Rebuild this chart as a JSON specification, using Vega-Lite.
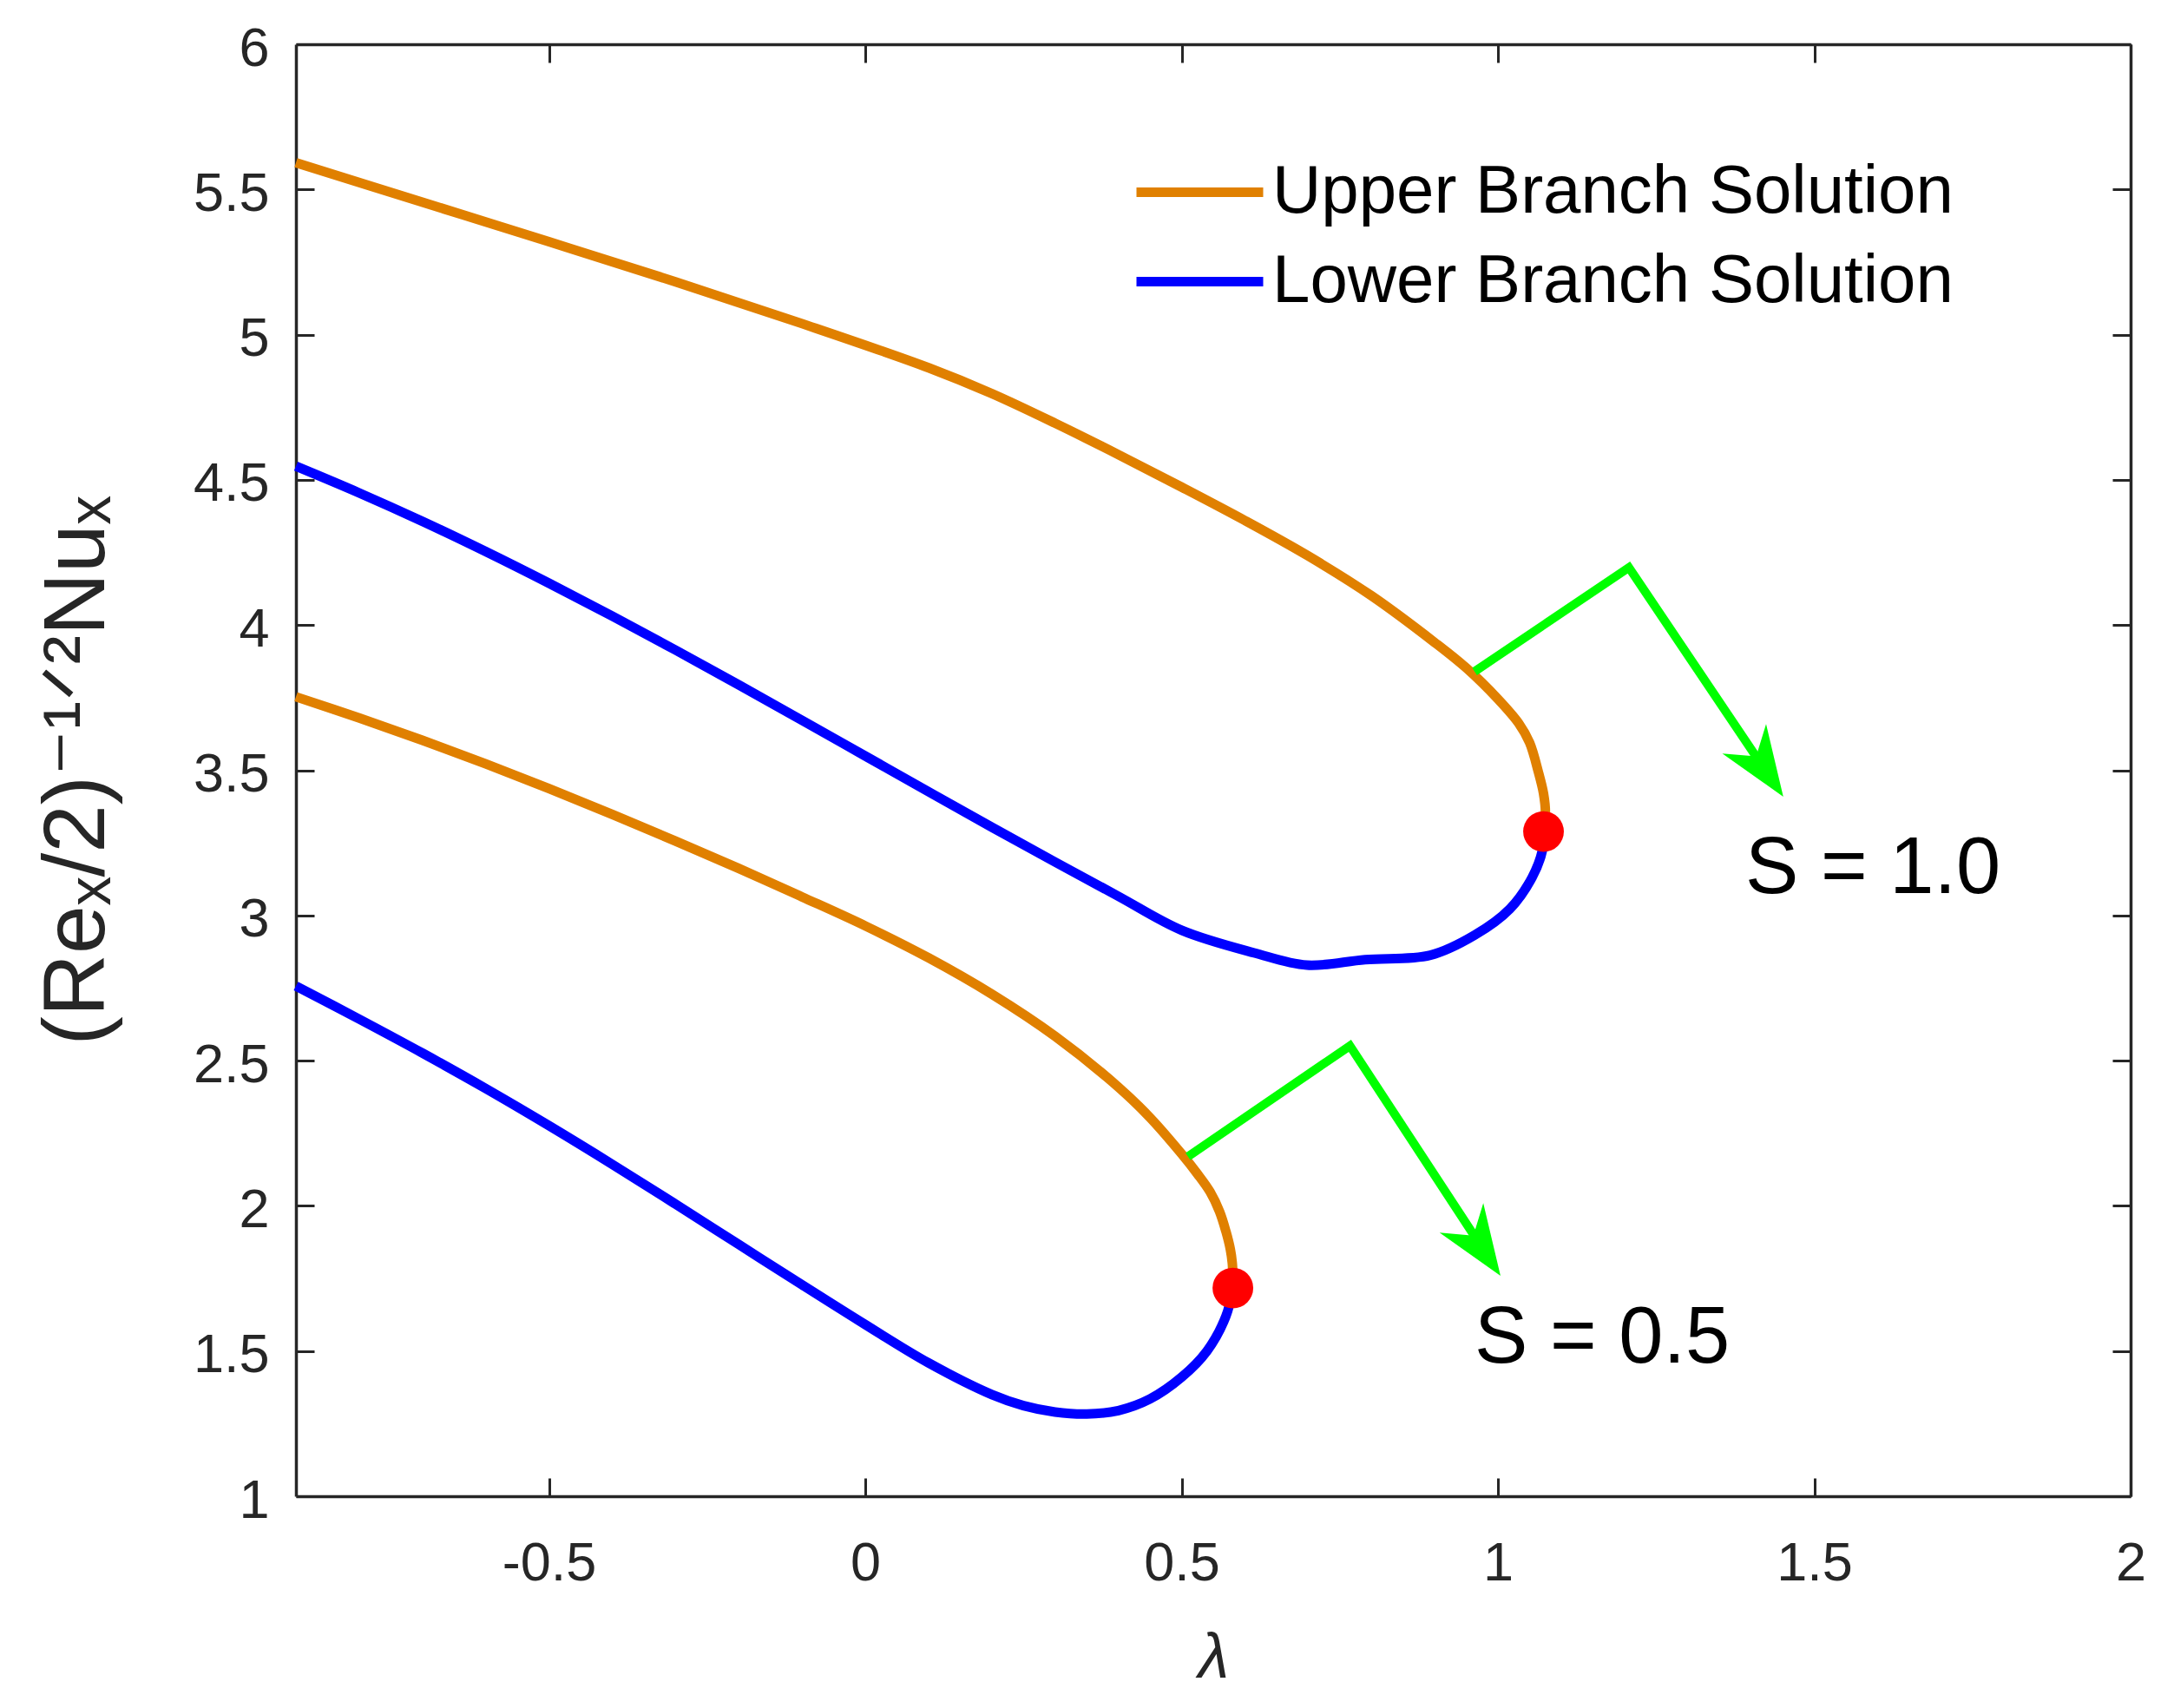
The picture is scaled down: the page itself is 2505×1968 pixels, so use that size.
{
  "$schema": "https://vega.github.io/schema/vega-lite/v6.json",
  "width": 2114,
  "height": 1673,
  "autosize": {"type": "none"},
  "padding": {"left": 341, "top": 51, "right": 50, "bottom": 244},
  "background": "#ffffff",
  "config": {
    "view": {"stroke": null},
    "axis": {
      "grid": false,
      "domainColor": "#262626",
      "domainWidth": 3.5,
      "tickColor": "#262626",
      "tickWidth": 3,
      "tickSize": -21,
      "labelFont": "Liberation Sans",
      "labelFontSize": 63,
      "labelColor": "#262626",
      "labelFlush": false,
      "labelOverlap": false,
      "titleFont": "Liberation Sans, DejaVu Sans",
      "titleColor": "#262626",
      "titleFontWeight": "normal"
    },
    "legend": {
      "orient": "none",
      "legendX": 997,
      "legendY": 109,
      "padding": 0,
      "symbolType": "M-1.607,0L1,0",
      "symbolSize": 12544,
      "symbolStrokeWidth": 11,
      "symbolFillColor": "transparent",
      "labelFont": "Liberation Sans",
      "labelFontSize": 78,
      "labelColor": "#000000",
      "labelOffset": 5,
      "labelLimit": 2000,
      "rowPadding": 2
    }
  },
  "layer": [
    {
      "data": {"values": [
        {"series": "U1", "branch": "Upper Branch Solution", "i": 0, "lam": -0.9, "nu": 5.592},
        {"series": "U1", "branch": "Upper Branch Solution", "i": 1, "lam": -0.7, "nu": 5.456},
        {"series": "U1", "branch": "Upper Branch Solution", "i": 2, "lam": -0.5, "nu": 5.320},
        {"series": "U1", "branch": "Upper Branch Solution", "i": 3, "lam": -0.3, "nu": 5.182},
        {"series": "U1", "branch": "Upper Branch Solution", "i": 4, "lam": -0.1, "nu": 5.038},
        {"series": "U1", "branch": "Upper Branch Solution", "i": 5, "lam": 0.1, "nu": 4.886},
        {"series": "U1", "branch": "Upper Branch Solution", "i": 6, "lam": 0.2, "nu": 4.797},
        {"series": "U1", "branch": "Upper Branch Solution", "i": 7, "lam": 0.3, "nu": 4.695},
        {"series": "U1", "branch": "Upper Branch Solution", "i": 8, "lam": 0.4, "nu": 4.587},
        {"series": "U1", "branch": "Upper Branch Solution", "i": 9, "lam": 0.5, "nu": 4.475},
        {"series": "U1", "branch": "Upper Branch Solution", "i": 10, "lam": 0.6, "nu": 4.360},
        {"series": "U1", "branch": "Upper Branch Solution", "i": 11, "lam": 0.7, "nu": 4.238},
        {"series": "U1", "branch": "Upper Branch Solution", "i": 12, "lam": 0.8, "nu": 4.101},
        {"series": "U1", "branch": "Upper Branch Solution", "i": 13, "lam": 0.9, "nu": 3.940},
        {"series": "U1", "branch": "Upper Branch Solution", "i": 14, "lam": 0.95, "nu": 3.852},
        {"series": "U1", "branch": "Upper Branch Solution", "i": 15, "lam": 1.0, "nu": 3.745},
        {"series": "U1", "branch": "Upper Branch Solution", "i": 16, "lam": 1.033, "nu": 3.661},
        {"series": "U1", "branch": "Upper Branch Solution", "i": 17, "lam": 1.05, "nu": 3.595},
        {"series": "U1", "branch": "Upper Branch Solution", "i": 18, "lam": 1.064, "nu": 3.493},
        {"series": "U1", "branch": "Upper Branch Solution", "i": 19, "lam": 1.072, "nu": 3.420},
        {"series": "U1", "branch": "Upper Branch Solution", "i": 20, "lam": 1.075, "nu": 3.355},
        {"series": "U1", "branch": "Upper Branch Solution", "i": 21, "lam": 1.072, "nu": 3.289},
        {"series": "L1", "branch": "Lower Branch Solution", "i": 0, "lam": -0.9, "nu": 4.547},
        {"series": "L1", "branch": "Lower Branch Solution", "i": 1, "lam": -0.8, "nu": 4.455},
        {"series": "L1", "branch": "Lower Branch Solution", "i": 2, "lam": -0.7, "nu": 4.357},
        {"series": "L1", "branch": "Lower Branch Solution", "i": 3, "lam": -0.6, "nu": 4.253},
        {"series": "L1", "branch": "Lower Branch Solution", "i": 4, "lam": -0.5, "nu": 4.144},
        {"series": "L1", "branch": "Lower Branch Solution", "i": 5, "lam": -0.4, "nu": 4.031},
        {"series": "L1", "branch": "Lower Branch Solution", "i": 6, "lam": -0.3, "nu": 3.914},
        {"series": "L1", "branch": "Lower Branch Solution", "i": 7, "lam": -0.2, "nu": 3.794},
        {"series": "L1", "branch": "Lower Branch Solution", "i": 8, "lam": -0.1, "nu": 3.672},
        {"series": "L1", "branch": "Lower Branch Solution", "i": 9, "lam": 0.0, "nu": 3.549},
        {"series": "L1", "branch": "Lower Branch Solution", "i": 10, "lam": 0.1, "nu": 3.426},
        {"series": "L1", "branch": "Lower Branch Solution", "i": 11, "lam": 0.2, "nu": 3.304},
        {"series": "L1", "branch": "Lower Branch Solution", "i": 12, "lam": 0.3, "nu": 3.184},
        {"series": "L1", "branch": "Lower Branch Solution", "i": 13, "lam": 0.4, "nu": 3.066},
        {"series": "L1", "branch": "Lower Branch Solution", "i": 14, "lam": 0.5, "nu": 2.949},
        {"series": "L1", "branch": "Lower Branch Solution", "i": 15, "lam": 0.615, "nu": 2.871},
        {"series": "L1", "branch": "Lower Branch Solution", "i": 16, "lam": 0.698, "nu": 2.829},
        {"series": "L1", "branch": "Lower Branch Solution", "i": 17, "lam": 0.790, "nu": 2.848},
        {"series": "L1", "branch": "Lower Branch Solution", "i": 18, "lam": 0.893, "nu": 2.863},
        {"series": "L1", "branch": "Lower Branch Solution", "i": 19, "lam": 0.963, "nu": 2.932},
        {"series": "L1", "branch": "Lower Branch Solution", "i": 20, "lam": 1.019, "nu": 3.023},
        {"series": "L1", "branch": "Lower Branch Solution", "i": 21, "lam": 1.054, "nu": 3.131},
        {"series": "L1", "branch": "Lower Branch Solution", "i": 22, "lam": 1.070, "nu": 3.222},
        {"series": "L1", "branch": "Lower Branch Solution", "i": 23, "lam": 1.072, "nu": 3.289},
        {"series": "U05", "branch": "Upper Branch Solution", "i": 0, "lam": -0.9, "nu": 3.753},
        {"series": "U05", "branch": "Upper Branch Solution", "i": 1, "lam": -0.8, "nu": 3.680},
        {"series": "U05", "branch": "Upper Branch Solution", "i": 2, "lam": -0.7, "nu": 3.603},
        {"series": "U05", "branch": "Upper Branch Solution", "i": 3, "lam": -0.6, "nu": 3.522},
        {"series": "U05", "branch": "Upper Branch Solution", "i": 4, "lam": -0.5, "nu": 3.437},
        {"series": "U05", "branch": "Upper Branch Solution", "i": 5, "lam": -0.4, "nu": 3.348},
        {"series": "U05", "branch": "Upper Branch Solution", "i": 6, "lam": -0.3, "nu": 3.256},
        {"series": "U05", "branch": "Upper Branch Solution", "i": 7, "lam": -0.2, "nu": 3.162},
        {"series": "U05", "branch": "Upper Branch Solution", "i": 8, "lam": -0.1, "nu": 3.064},
        {"series": "U05", "branch": "Upper Branch Solution", "i": 9, "lam": 0.0, "nu": 2.964},
        {"series": "U05", "branch": "Upper Branch Solution", "i": 10, "lam": 0.1, "nu": 2.854},
        {"series": "U05", "branch": "Upper Branch Solution", "i": 11, "lam": 0.2, "nu": 2.729},
        {"series": "U05", "branch": "Upper Branch Solution", "i": 12, "lam": 0.3, "nu": 2.584},
        {"series": "U05", "branch": "Upper Branch Solution", "i": 13, "lam": 0.4, "nu": 2.409},
        {"series": "U05", "branch": "Upper Branch Solution", "i": 14, "lam": 0.45, "nu": 2.304},
        {"series": "U05", "branch": "Upper Branch Solution", "i": 15, "lam": 0.5, "nu": 2.179},
        {"series": "U05", "branch": "Upper Branch Solution", "i": 16, "lam": 0.525, "nu": 2.110},
        {"series": "U05", "branch": "Upper Branch Solution", "i": 17, "lam": 0.545, "nu": 2.048},
        {"series": "U05", "branch": "Upper Branch Solution", "i": 18, "lam": 0.560, "nu": 1.980},
        {"series": "U05", "branch": "Upper Branch Solution", "i": 19, "lam": 0.570, "nu": 1.912},
        {"series": "U05", "branch": "Upper Branch Solution", "i": 20, "lam": 0.577, "nu": 1.850},
        {"series": "U05", "branch": "Upper Branch Solution", "i": 21, "lam": 0.580, "nu": 1.804},
        {"series": "U05", "branch": "Upper Branch Solution", "i": 22, "lam": 0.581, "nu": 1.760},
        {"series": "U05", "branch": "Upper Branch Solution", "i": 23, "lam": 0.581, "nu": 1.717},
        {"series": "L05", "branch": "Lower Branch Solution", "i": 0, "lam": -0.9, "nu": 2.757},
        {"series": "L05", "branch": "Lower Branch Solution", "i": 1, "lam": -0.8, "nu": 2.643},
        {"series": "L05", "branch": "Lower Branch Solution", "i": 2, "lam": -0.7, "nu": 2.526},
        {"series": "L05", "branch": "Lower Branch Solution", "i": 3, "lam": -0.6, "nu": 2.404},
        {"series": "L05", "branch": "Lower Branch Solution", "i": 4, "lam": -0.5, "nu": 2.276},
        {"series": "L05", "branch": "Lower Branch Solution", "i": 5, "lam": -0.4, "nu": 2.143},
        {"series": "L05", "branch": "Lower Branch Solution", "i": 6, "lam": -0.3, "nu": 2.006},
        {"series": "L05", "branch": "Lower Branch Solution", "i": 7, "lam": -0.2, "nu": 1.867},
        {"series": "L05", "branch": "Lower Branch Solution", "i": 8, "lam": -0.1, "nu": 1.728},
        {"series": "L05", "branch": "Lower Branch Solution", "i": 9, "lam": 0.0, "nu": 1.591},
        {"series": "L05", "branch": "Lower Branch Solution", "i": 10, "lam": 0.1, "nu": 1.459},
        {"series": "L05", "branch": "Lower Branch Solution", "i": 11, "lam": 0.2, "nu": 1.350},
        {"series": "L05", "branch": "Lower Branch Solution", "i": 12, "lam": 0.25, "nu": 1.312},
        {"series": "L05", "branch": "Lower Branch Solution", "i": 13, "lam": 0.3, "nu": 1.290},
        {"series": "L05", "branch": "Lower Branch Solution", "i": 14, "lam": 0.35, "nu": 1.283},
        {"series": "L05", "branch": "Lower Branch Solution", "i": 15, "lam": 0.4, "nu": 1.295},
        {"series": "L05", "branch": "Lower Branch Solution", "i": 16, "lam": 0.45, "nu": 1.335},
        {"series": "L05", "branch": "Lower Branch Solution", "i": 17, "lam": 0.5, "nu": 1.410},
        {"series": "L05", "branch": "Lower Branch Solution", "i": 18, "lam": 0.54, "nu": 1.500},
        {"series": "L05", "branch": "Lower Branch Solution", "i": 19, "lam": 0.57, "nu": 1.620},
        {"series": "L05", "branch": "Lower Branch Solution", "i": 20, "lam": 0.581, "nu": 1.717}
      ]},
      "mark": {"type": "line", "strokeWidth": 11, "strokeJoin": "round", "interpolate": "catmull-rom"},
      "encoding": {
        "x": {
          "field": "lam", "type": "quantitative",
          "scale": {"domain": [-0.9, 2], "nice": false, "zero": false},
          "axis": {
            "orient": "bottom",
            "values": [-0.5, 0, 0.5, 1, 1.5, 2],
            "labelExpr": "toString(datum.value)",
            "labelPadding": 67,
            "title": "λ",
            "titleFontSize": 72,
            "titleFontStyle": "italic",
            "titlePadding": 42
          }
        },
        "y": {
          "field": "nu", "type": "quantitative",
          "scale": {"domain": [1, 6], "nice": false, "zero": false},
          "axis": {
            "orient": "left",
            "values": [1, 1.5, 2, 2.5, 3, 3.5, 4, 4.5, 5, 5.5, 6],
            "labelExpr": "toString(datum.value)",
            "labelPadding": 52,
            "labelOffset": 5,
            "title": "(Reₓ/2)⁻¹ᐟ²Nuₓ",
            "titleFontSize": 100,
            "titlePadding": 82
          }
        },
        "color": {
          "field": "branch", "type": "nominal",
          "scale": {"domain": ["Upper Branch Solution", "Lower Branch Solution"], "range": ["#E08000", "#0000FF"]},
          "legend": {"title": null}
        },
        "detail": {"field": "series"},
        "order": {"field": "i", "type": "quantitative"}
      }
    },
    {
      "data": {"values": [
        {"s": "1.0", "k": 0, "lam": 0.963, "nu": 3.840},
        {"s": "1.0", "k": 1, "lam": 1.207, "nu": 4.198},
        {"s": "1.0", "k": 2, "lam": 1.417, "nu": 3.518},
        {"s": "0.5", "k": 0, "lam": 0.510, "nu": 2.170},
        {"s": "0.5", "k": 1, "lam": 0.766, "nu": 2.551},
        {"s": "0.5", "k": 2, "lam": 0.971, "nu": 1.869}
      ]},
      "mark": {"type": "line", "color": "#00FF00", "strokeWidth": 10},
      "encoding": {
        "x": {
          "field": "lam", "type": "quantitative",
          "scale": {"domain": [-0.9, 2], "nice": false, "zero": false},
          "axis": {"orient": "top", "labels": false, "title": null, "values": [-0.5, 0, 0.5, 1, 1.5, 2]}
        },
        "y": {
          "field": "nu", "type": "quantitative",
          "scale": {"domain": [1, 6], "nice": false, "zero": false},
          "axis": {"orient": "right", "labels": false, "title": null, "values": [1, 1.5, 2, 2.5, 3, 3.5, 4, 4.5, 5, 5.5, 6]}
        },
        "detail": {"field": "s"},
        "order": {"field": "k", "type": "quantitative"}
      }
    },
    {
      "data": {"values": [
        {"lam": 1.451, "nu": 3.409},
        {"lam": 1.004, "nu": 1.759}
      ]},
      "mark": {"type": "point", "shape": "M0,0L0.68,1.8L0,1.25L-0.68,1.8Z", "filled": true, "color": "#00FF00", "opacity": 1, "size": 8000, "angle": 146, "strokeWidth": 0},
      "encoding": {
        "x": {"field": "lam", "type": "quantitative", "scale": {"domain": [-0.9, 2], "nice": false, "zero": false}, "axis": null},
        "y": {"field": "nu", "type": "quantitative", "scale": {"domain": [1, 6], "nice": false, "zero": false}, "axis": null}
      }
    },
    {
      "data": {"values": [
        {"lam": 1.072, "nu": 3.289},
        {"lam": 0.581, "nu": 1.717}
      ]},
      "mark": {"type": "point", "shape": "circle", "filled": true, "color": "#FF0000", "opacity": 1, "size": 2200},
      "encoding": {
        "x": {"field": "lam", "type": "quantitative", "scale": {"domain": [-0.9, 2], "nice": false, "zero": false}, "axis": null},
        "y": {"field": "nu", "type": "quantitative", "scale": {"domain": [1, 6], "nice": false, "zero": false}, "axis": null}
      }
    },
    {
      "data": {"values": [
        {"lam": 1.391, "nu": 3.077, "label": "S = 1.0"},
        {"lam": 0.963, "nu": 1.460, "label": "S = 0.5"}
      ]},
      "mark": {"type": "text", "align": "left", "baseline": "alphabetic", "font": "Liberation Sans", "fontSize": 92, "color": "#000000"},
      "encoding": {
        "x": {"field": "lam", "type": "quantitative", "scale": {"domain": [-0.9, 2], "nice": false, "zero": false}, "axis": null},
        "y": {"field": "nu", "type": "quantitative", "scale": {"domain": [1, 6], "nice": false, "zero": false}, "axis": null},
        "text": {"field": "label"}
      }
    }
  ],
  "resolve": {"axis": {"x": "independent", "y": "independent"}}
}
